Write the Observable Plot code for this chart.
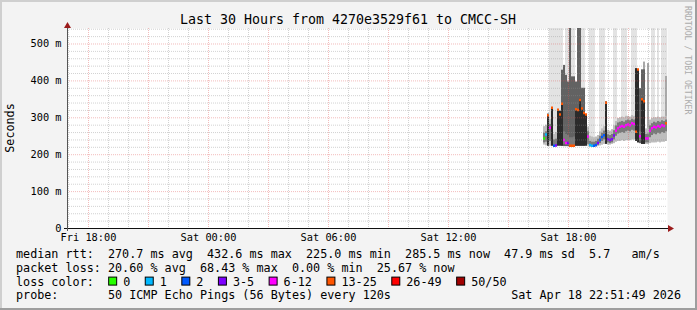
<!DOCTYPE html>
<html><head><meta charset="utf-8">
<script src="https://cdn.jsdelivr.net/npm/d3@7"></script>
<script src="https://cdn.jsdelivr.net/npm/@observablehq/plot@0.6"></script>
<style>
body{margin:0;background:#f3f3f3;}
#chart{width:697px;height:310px;}
svg{display:block;}
</style></head><body><div id="chart"></div>
<script>
// ---- texts ----
const title = "Last 30 Hours from 4270e3529f61 to CMCC-SH";
const yLabel = "Seconds";
const sideNote = "RRDTOOL / TOBI OETIKER";
const legendLines = [
  "median rtt:  270.7 ms avg  432.6 ms max  225.0 ms min  285.5 ms now  47.9 ms sd  5.7   am/s",
  "packet loss: 20.60 % avg  68.43 % max  0.00 % min  25.67 % now"
];
const lossTitle = "loss color:";
const probeLine = "probe:       50 ICMP Echo Pings (56 Bytes) every 120s";
const stamp = "Sat Apr 18 22:51:49 2026";

// ---- loss colour classes ----
const lossLabels = ["0", "1", "2", "3-5", "6-12", "13-25", "26-49", "50/50"];
const lossMins   = [0, 1, 2, 3, 6, 13, 26, 50];
const lossColors = ["#26ff00", "#00b8ff", "#0059ff", "#7e00ff", "#ff00ff", "#ff5500", "#ff0000", "#a10000"];

// ---- time axis ----
const rangeStart = new Date(2026, 3, 17, 16, 57);
const rangeEnd   = new Date(2026, 3, 18, 22, 57);
const dataStart  = new Date(2026, 3, 18, 16, 45);
const stepMinutes = 6;

// ---- series (ms), one value per 6-minute step ----
const median = [244,255,307,273,327,224,225,322,309,338,
                240,232,232,224,224,224,323,321,348,325,
                313,309,249,226,224,224,226,232,240,248,
                253,341,242,240,242,252,265,272,276,278,
                276,280,282,280,285,283,262,431,250,350,
                345,244,244,265,272,276,274,278,276,280,
                278,285];
const lossCount = [0,1,16,8,16,2,3,16,16,16,
                   8,8,4,16,16,16,16,16,16,16,
                   16,16,8,1,1,2,2,3,2,2,
                   2,16,4,4,4,4,8,8,8,8,
                   8,8,8,8,8,8,16,16,8,16,
                   16,8,8,8,8,8,8,8,8,8,
                   8,13];
const minPing = [226,224,223,223,223,222,222,223,223,223,
                 222,222,222,222,222,222,223,223,223,223,
                 223,223,223,220,220,220,220,222,224,226,
                 228,228,226,226,228,230,234,236,236,238,
                 236,238,238,238,240,240,236,232,230,228,
                 228,228,228,230,232,232,232,234,232,234,
                 234,236];
const innerLo = [232,234,240,236,240,224,224,240,240,240,
                 228,226,226,224,224,224,236,236,236,236,
                 236,236,228,222,221,221,222,225,230,236,
                 240,238,232,230,232,240,250,256,258,260,
                 258,262,264,262,266,264,250,240,238,234,
                 232,232,232,246,252,256,254,258,256,260,
                 258,262];
const innerHi = [258,262,290,282,300,240,242,300,295,300,
                 262,255,252,246,246,248,290,290,290,290,
                 290,285,262,236,234,234,236,242,250,258,
                 264,262,254,252,255,265,278,286,288,290,
                 288,292,294,292,296,294,280,270,262,258,
                 255,255,256,278,284,288,286,290,288,292,
                 290,294];
const outerHi = [276,280,300,295,310,255,260,310,305,315,
                 290,285,280,270,270,275,305,305,305,305,
                 305,300,275,250,248,246,248,252,262,270,
                 276,300,266,264,268,278,290,298,300,302,
                 300,304,304,302,306,304,300,300,290,300,
                 290,270,272,294,298,300,300,302,300,302,
                 302,304];
const blackTop = [0,0,310,0,327,0,0,322,318,339,
                  0,0,0,0,0,0,323,321,350,326,
                  315,309,0,0,0,0,0,0,0,0,
                  0,343,0,0,0,0,0,0,0,0,
                  0,0,0,0,0,0,433,431,0,352,
                  345,0,0,0,0,0,0,0,0,0,
                  0,0];
const darkTop = [0,0,0,0,0,0,0,0,0,429,
                 442,415,397,560,411,411,397,560,560,380,
                 380,0,0,0,0,0,0,0,0,0,
                 0,0,0,0,0,0,0,0,0,0,
                 0,0,0,0,0,0,433,0,379,430,
                 430,0,0,0,0,0,0,0,0,0,
                 0,0];
const spikeTop = [0,0,0,0,0,0,0,0,0,0,
                  0,0,0,0,0,0,0,0,0,0,
                  0,0,0,0,0,0,0,0,0,0,
                  0,0,0,0,0,0,0,0,0,0,
                  0,0,0,0,0,0,0,0,0,0,
                  451,0,447,0,0,0,0,0,0,0,
                  0,412];
const lightTop = [0,0,0,560,560,560,560,560,560,560,
                  0,560,560,560,560,560,0,560,560,560,
                  560,0,0,560,560,560,0,0,560,560,
                  560,0,0,0,0,560,560,0,0,560,
                  560,560,0,0,560,560,560,0,0,0,
                  0,0,0,0,560,560,0,560,0,560,
                  560,560];

// ---- build table ----
const stepMs = stepMinutes * 60000;
const rows = median.map((m, i) => ({
  t0: new Date(+dataStart + i * stepMs),
  t1: new Date(+dataStart + (i + 1) * stepMs),
  med: m, loss: lossCount[i], lo: minPing[i],
  q1: innerLo[i], q3: innerHi[i], hi: outerHi[i],
  black: blackTop[i], dark: darkTop[i], spike: spikeTop[i], top: lightTop[i]
}));
function lossColor(n) {
  let c = lossColors[0];
  lossMins.forEach((m, k) => { if (n >= m) c = lossColors[k]; });
  return c;
}

const yMax = 542;
const hoursAll = d3.timeHour.range(rangeStart, rangeEnd);
const minorX = hoursAll.filter(d => d.getHours() % 3 !== 0);
const majorX = hoursAll.filter(d => d.getHours() % 3 === 0);
const labelX = d3.timeHour.every(6).range(rangeStart, rangeEnd);
const minorY = d3.range(20, yMax, 20).filter(v => v % 100 !== 0);
const majorY = d3.range(100, yMax, 100);
const yTicks = d3.range(0, yMax, 100);

const M = {left: 67, right: 30, top: 28, bottom: 82};
const W = 697, H = 310;
const mono = "'DejaVu Sans Mono', monospace";
const rectOpts = (y2, fill) => ({x1: "t0", x2: "t1", y1: "lo", y2, fill});

const plot = Plot.plot({
  width: W, height: H,
  marginLeft: M.left, marginRight: M.right, marginTop: M.top, marginBottom: M.bottom,
  x: {type: "time", domain: [rangeStart, rangeEnd]},
  y: {domain: [0, yMax], clamp: true},
  color: {type: "identity"},
  style: {background: "#f3f3f3", fontFamily: mono, fontSize: "10.3px", color: "#000", overflow: "visible"},
  marks: [
    Plot.frame({fill: "#ffffff", stroke: "none"}),
    Plot.rect(rows.filter(d => d.top > 0), rectOpts("top", "#e3e3e3")),
    Plot.rect(rows.filter(d => d.spike > 0), rectOpts("spike", "#a9a9a9")),
    Plot.rect(rows, rectOpts("hi", "#bdbdbd")),
    Plot.rect(rows.filter(d => d.dark > 0), rectOpts("dark", "#626262")),
    Plot.rect(rows, {x1: "t0", x2: "t1", y1: "q1", y2: "q3", fill: "#7a7a7a"}),
    Plot.rect(rows.filter(d => d.black > 0), rectOpts("black", "#2b2b2b")),
    Plot.ruleY(rows, {x1: "t0", x2: "t1", y: "med", stroke: d => lossColor(d.loss), strokeWidth: 2.5}),
    Plot.ruleX(minorX, {stroke: "#8f8f8f", strokeOpacity: 0.4, strokeDasharray: "1,1"}),
    Plot.ruleY(minorY, {stroke: "#8f8f8f", strokeOpacity: 0.4, strokeDasharray: "1,1"}),
    Plot.ruleX(majorX, {stroke: "#de5050", strokeOpacity: 0.38, strokeDasharray: "1,1"}),
    Plot.ruleY(majorY, {stroke: "#de5050", strokeOpacity: 0.38, strokeDasharray: "1,1"}),
    Plot.axisX({ticks: labelX, tickFormat: d3.timeFormat("%a %H:%M"), tickSize: 0, tickPadding: 5, label: null}),
    Plot.axisY({ticks: yTicks, tickFormat: v => v === 0 ? "0" : v + " m", tickSize: 0, tickPadding: 6, label: null})
  ]
});
document.getElementById("chart").appendChild(plot);

// ---- decorations: axes, arrows, texts, border ----
const svg = d3.select(plot);
const x0 = M.left, x1 = W - M.right, yb = H - M.bottom, yt = M.top;
const g = svg.append("g").attr("shape-rendering", "crispEdges");
g.append("line").attr("x1", x0 - 3).attr("x2", x1 + 2).attr("y1", yb + 0.5).attr("y2", yb + 0.5).attr("stroke", "#101010");
g.append("line").attr("x1", x0 + 0.5).attr("x2", x0 + 0.5).attr("y1", yb + 3).attr("y2", yt - 1).attr("stroke", "#555");
svg.append("path").attr("d", `M${x1 + 1},${yb - 3} L${x1 + 7},${yb + 0.5} L${x1 + 1},${yb + 4} Z`).attr("fill", "#9b1c1c");
svg.append("path").attr("d", `M${x0 - 3},${yt} L${x0 + 0.5},${yt - 6} L${x0 + 4},${yt} Z`).attr("fill", "#9b1c1c");

function txt(s, x, y, size, opts = {}) {
  const t = svg.append("text").text(s).attr("x", x).attr("y", y)
    .attr("font-family", mono).attr("font-size", size).attr("fill", opts.fill || "#000")
    .attr("text-anchor", opts.anchor || "start").attr("xml:space", "preserve").style("white-space", "pre");
  if (opts.transform) t.attr("transform", opts.transform);
  return t;
}
txt(title, 348, 24, 13.3, {anchor: "middle"});
txt(yLabel, 0, 0, 11.75, {anchor: "middle", transform: `translate(14,${(yt + yb) / 2}) rotate(-90)`});
txt(sideNote, 0, 0, 8.2, {fill: "#ababab", transform: "translate(685,6) rotate(90)"});

const lx = 16, base = [258, 271.8, 285.6, 299.4];
txt(legendLines[0], lx, base[0], 11.75);
txt(legendLines[1], lx, base[1], 11.75);
txt(lossTitle, lx, base[2], 11.75);
const probe = txt(probeLine, lx, base[3], 11.75);
txt(stamp, 681, base[3], 11.75, {anchor: "end"});
const cw = probe.node().getComputedTextLength() / probeLine.length;
let col = 15.15;
lossLabels.forEach((lab, k) => {
  const tx = lx + col * cw;
  svg.append("rect").attr("x", tx - 14.5).attr("y", base[2] - 8.5).attr("width", 8).attr("height", 8)
    .attr("fill", lossColors[k]).attr("stroke", "#000").attr("stroke-width", 1);
  txt(lab, tx, base[2], 11.75);
  col += lab.length + 4.17;
});

const b = svg.append("g").attr("shape-rendering", "crispEdges");
b.append("rect").attr("x", 0).attr("y", 0).attr("width", W).attr("height", 2).attr("fill", "#cfcfcf");
b.append("rect").attr("x", 0).attr("y", 0).attr("width", 2).attr("height", H).attr("fill", "#cfcfcf");
b.append("rect").attr("x", 0).attr("y", H - 2).attr("width", W).attr("height", 2).attr("fill", "#9e9e9e");
b.append("rect").attr("x", W - 2).attr("y", 0).attr("width", 2).attr("height", H).attr("fill", "#9e9e9e");
</script></body></html>
